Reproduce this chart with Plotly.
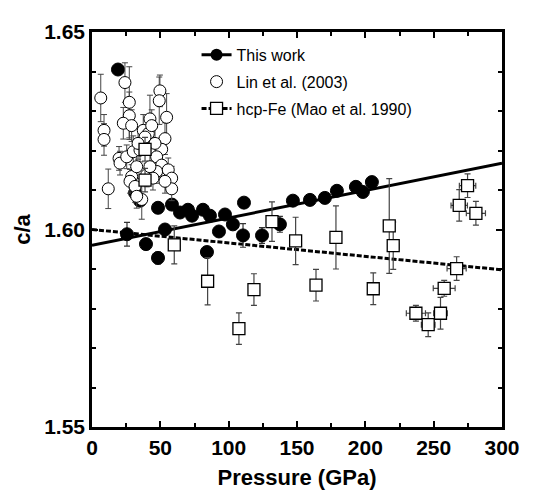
import plotly.graph_objects as go

# ---------------- data ----------------
# This work (filled circles)
work_p = [19.0, 25.6, 39.5, 48.3, 53.4, 48.3, 31.5, 35.1, 58.5, 64.4, 70.2, 73.2, 81.2, 86.3,
          97.3, 103.1, 92.9, 111.2, 110.5, 124.4, 84.1, 137.5, 147.0, 159.5, 170.4, 179.2,
          193.1, 198.2, 204.8]
work_ca = [1.6405, 1.5988, 1.5963, 1.5928, 1.6000, 1.6055, 1.6093, 1.6073, 1.6063, 1.6043,
           1.6050, 1.6035, 1.6050, 1.6035, 1.6038, 1.6013, 1.5995, 1.6068, 1.5985, 1.5985,
           1.5943, 1.6013, 1.6073, 1.6075, 1.6080, 1.6098, 1.6108, 1.6095, 1.6120]
work_err = [0, 0.003, 0, 0.0015, 0, 0, 0, 0, 0, 0, 0, 0, 0, 0,
            0, 0, 0, 0, 0.003, 0.002, 0, 0.002, 0, 0, 0, 0, 0, 0, 0]

# Lin et al. (2003) (open circles)
lin_p = [6.4, 8.8, 8.8, 11.9, 24.1, 27.3, 27.3, 22.9, 29.0, 19.8, 20.5, 25.4, 30.2, 29.0,
         27.8, 31.5, 36.4, 32.7, 37.5, 41.2, 38.8, 42.4, 43.7, 49.7, 49.2, 54.6, 53.4, 51.0,
         47.3, 51.0, 47.3, 55.8, 58.3, 58.3, 53.4, 35.1, 32.7, 40.0, 42.4, 33.7, 46.1, 44.6]
lin_ca = [1.6333, 1.6251, 1.6228, 1.6103, 1.6372, 1.6322, 1.6288, 1.6269, 1.6263, 1.6180,
          1.6168, 1.6184, 1.6197, 1.6134, 1.6122, 1.6109, 1.6076, 1.6084, 1.6251, 1.6243,
          1.6234, 1.6280, 1.6263, 1.6351, 1.6326, 1.6284, 1.6230, 1.6203, 1.6184, 1.6163,
          1.6147, 1.6151, 1.6130, 1.6103, 1.6122, 1.6201, 1.6159, 1.6138, 1.6159, 1.6218,
          1.6218, 1.6130]
lin_err = [0.006, 0.004, 0.004, 0.005, 0.005, 0.009, 0.006, 0.004, 0.004, 0.003,
           0.003, 0.003, 0.004, 0.003, 0.003, 0.004, 0.005, 0.003, 0.004, 0.004,
           0.003, 0.006, 0.004, 0.004, 0.006, 0.006, 0.004, 0.003, 0.003, 0.003,
           0.003, 0.003, 0.003, 0.003, 0.003, 0.003, 0.003, 0.003, 0.003, 0.004,
           0.004, 0.003]

# hcp-Fe (Mao et al. 1990) (open squares)
mao_p = [38.8, 38.8, 60.2, 84.6, 118.5, 107.5, 131.7, 149.0, 163.9, 178.5, 205.8, 217.5,
         220.4, 237.0, 246.0, 255.0, 257.7, 266.8, 268.7, 274.8, 280.9]
mao_ca = [1.6203, 1.6125, 1.5961, 1.5869, 1.5848, 1.5749, 1.6020, 1.5971, 1.5859, 1.5980,
          1.5850, 1.6009, 1.5959, 1.5788, 1.5759, 1.5788, 1.5851, 1.5901, 1.6061, 1.6111,
          1.6041]
mao_err_y = [0.003, 0.003, 0.0048, 0.006, 0.004, 0.004, 0.005, 0.006, 0.004, 0.008,
             0.004, 0.012, 0.006, 0.002, 0.003, 0.004, 0.002, 0.003, 0.004, 0.003, 0.003]
mao_err_x = [0, 0, 0, 0, 0, 0, 0, 0, 2, 2, 4, 3, 4, 7, 5, 5, 8, 7, 6, 6, 7]

# linear fits
fit_p = [0, 300]
work_fit = [1.5960, 1.6168]
mao_fit = [1.6000, 1.5898]

x_ticks = [0, 50, 100, 150, 200, 250, 300]
y_ticks = [1.55, 1.60, 1.65]

# ---------------- figure ----------------
FONT = "Liberation Sans, Arial, Helvetica, sans-serif"
DASH = "5px,2px"
fig = go.Figure()

# fit lines
fig.add_trace(go.Scatter(x=fit_p, y=mao_fit, mode="lines", showlegend=False,
                         line=dict(color="black", width=3, dash=DASH)))
fig.add_trace(go.Scatter(x=fit_p, y=work_fit, mode="lines", showlegend=False,
                         line=dict(color="black", width=3)))

# this work points
fig.add_trace(go.Scatter(x=work_p, y=work_ca, mode="markers", showlegend=False,
                         marker=dict(symbol="circle", size=13, color="black",
                                     line=dict(color="black", width=1)),
                         error_y=dict(type="data", array=work_err, color="#333",
                                      thickness=1.2, width=3)))
# Lin et al.
fig.add_trace(go.Scatter(x=lin_p, y=lin_ca, mode="markers", showlegend=False,
                         marker=dict(symbol="circle", size=12, color="white",
                                     line=dict(color="black", width=1)),
                         error_y=dict(type="data", array=lin_err, color="#444",
                                      thickness=1, width=3)))
# Mao et al.
fig.add_trace(go.Scatter(x=mao_p, y=mao_ca, mode="markers", showlegend=False,
                         marker=dict(symbol="square", size=12, color="white",
                                     line=dict(color="black", width=1.3)),
                         error_y=dict(type="data", array=mao_err_y, color="#444",
                                      thickness=1.2, width=3),
                         error_x=dict(type="data", array=mao_err_x, color="#444",
                                      thickness=1.2, width=3)))

# legend entries
fig.add_trace(go.Scatter(x=[None], y=[None], mode="lines+markers", name="This work",
                         legendgroup="a",
                         line=dict(color="black", width=3),
                         marker=dict(symbol="circle", size=12, color="black")))
fig.add_trace(go.Scatter(x=[None], y=[None], mode="markers", name="Lin et al. (2003)",
                         legendgroup="b",
                         marker=dict(symbol="circle", size=12, color="white",
                                     line=dict(color="black", width=1))))
fig.add_trace(go.Scatter(x=[None], y=[None], mode="lines+markers",
                         name="hcp-Fe (Mao et al. 1990)", legendgroup="c",
                         line=dict(color="black", width=3, dash=DASH),
                         marker=dict(symbol="square", size=12, color="white",
                                     line=dict(color="black", width=1.3))))

axis_common = dict(
    showline=True, linecolor="black", linewidth=2.5, mirror="allticks",
    ticks="inside", ticklen=6, tickwidth=2, tickcolor="black",
    showgrid=False, zeroline=False,
    tickfont=dict(family=FONT, size=21, color="black", weight="bold"),
)

fig.update_xaxes(range=[0, 300], tickvals=x_ticks,
                 minor=dict(dtick=25, ticks="inside", ticklen=4, tickwidth=2,
                            tickcolor="black"),
                 title=dict(text="Pressure (GPa)", standoff=12,
                            font=dict(family=FONT, size=22, color="black", weight="bold")),
                 **axis_common)
fig.update_yaxes(range=[1.55, 1.65], tickvals=y_ticks, tickformat=".2f",
                 minor=dict(dtick=0.01, ticks="inside", ticklen=4, tickwidth=2,
                            tickcolor="black"),
                 title=dict(text="c/a", standoff=8,
                            font=dict(family=FONT, size=22, color="black", weight="bold")),
                 **axis_common)

fig.update_layout(
    width=532, height=490,
    margin=dict(l=84, r=38, t=19, b=71),
    paper_bgcolor="white", plot_bgcolor="white",
    showlegend=True,
    legend=dict(x=0.255, y=0.985, xanchor="left", yanchor="top",
                bgcolor="rgba(0,0,0,0)", borderwidth=0,
                traceorder="grouped", tracegroupgap=3,
                font=dict(family=FONT, size=16, color="black")),
)

fig.write_html("out.html")
